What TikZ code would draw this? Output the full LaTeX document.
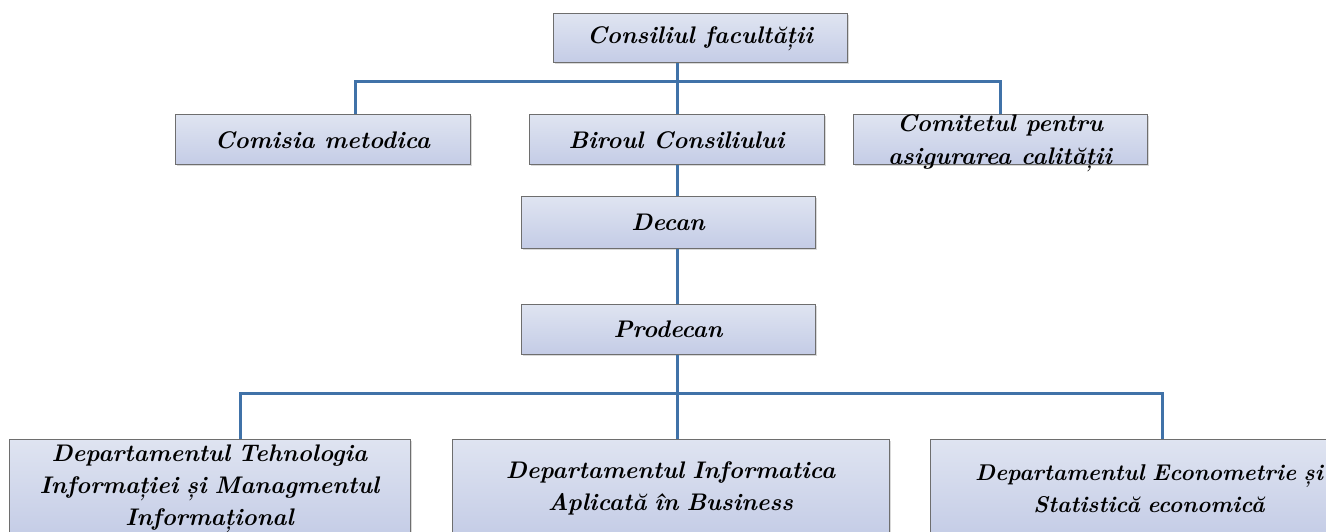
\documentclass[tikz,border=0pt]{standalone}
\usepackage{fontspec}
\usetikzlibrary{shadows}
\definecolor{boxtop}{HTML}{DFE4F1}
\definecolor{boxbot}{HTML}{C4CCE6}
\definecolor{boxline}{HTML}{6E6E6E}
\definecolor{conncol}{HTML}{4072A8}
\tikzset{
  orgbox/.style={draw=boxline, line width=1pt, top color=boxtop, bottom color=boxbot,
    drop shadow={shadow xshift=1.5pt, shadow yshift=-1.5pt, fill=black!25, opacity=0.6},
    inner sep=0pt, align=center, font=\fontsize{24}{32}\selectfont\bfseries\itshape},
  conn/.style={draw=conncol, line width=3pt, line join=miter}
}
\begin{document}
\begin{tikzpicture}[x=1pt,y=-1pt]
\useasboundingbox (0,0) rectangle (1326,532);
\clip (0,0) rectangle (1326,532);
% nodes
\node[orgbox, minimum width=294pt, minimum height=49pt] (cons) at (700,38.5) {Consiliul facultății};
\node[orgbox, minimum width=295pt, minimum height=50pt] (com) at (322.5,140) {Comisia metodica};
\node[orgbox, minimum width=295pt, minimum height=50pt] (bir) at (676.5,140) {Biroul Consiliului};
\node[orgbox, minimum width=294pt, minimum height=50pt] (comit) at (1000,140) {\smash{\raisebox{-7.5pt}{\begin{tabular}{@{}c@{}}Comitetul pentru\\[1pt]asigurarea calității\end{tabular}}}};
\node[orgbox, minimum width=294pt, minimum height=51pt] (dec) at (668,222.5) {Decan};
\node[orgbox, minimum width=294pt, minimum height=50pt] (pro) at (668,329) {Prodecan};
\node[orgbox, minimum width=401pt, minimum height=99pt, text width=395pt] (d1) at (209.5,488.5) {Departamentul Tehnologia\\Informației și Managmentul\\Informațional};
\node[orgbox, minimum width=437pt, minimum height=99pt, text width=430pt] (d2) at (670.5,488.5) {Departamentul Informatica\\Aplicată în Business};
\node[orgbox, minimum width=437pt, minimum height=99pt, text width=430pt, font=\fontsize{22.8}{32}\selectfont\bfseries\itshape] (d3) at (1149,488.5) {Departamentul Econometrie și\\Statistică economică};
% junction coordinates
\coordinate (t1) at (677,82);
\coordinate (l1) at (355,82);
\coordinate (r1) at (1000,82);
\coordinate (t2) at (677,393);
\coordinate (l2) at (240,393);
\coordinate (r2) at (1162,393);
% connectors
\draw[conn] (t1 |- cons.south) -- (t1 |- bir.north);
\draw[conn] (l1 |- com.north) -- (l1) -- (r1) -- (r1 |- comit.north);
\draw[conn] (t1 |- bir.south) -- (t1 |- dec.north);
\draw[conn] (t1 |- dec.south) -- (t1 |- pro.north);
\draw[conn] (t1 |- pro.south) -- (t2 |- d2.north);
\draw[conn] (l2 |- d1.north) -- (l2) -- (r2) -- (r2 |- d3.north);
\end{tikzpicture}
\end{document}
